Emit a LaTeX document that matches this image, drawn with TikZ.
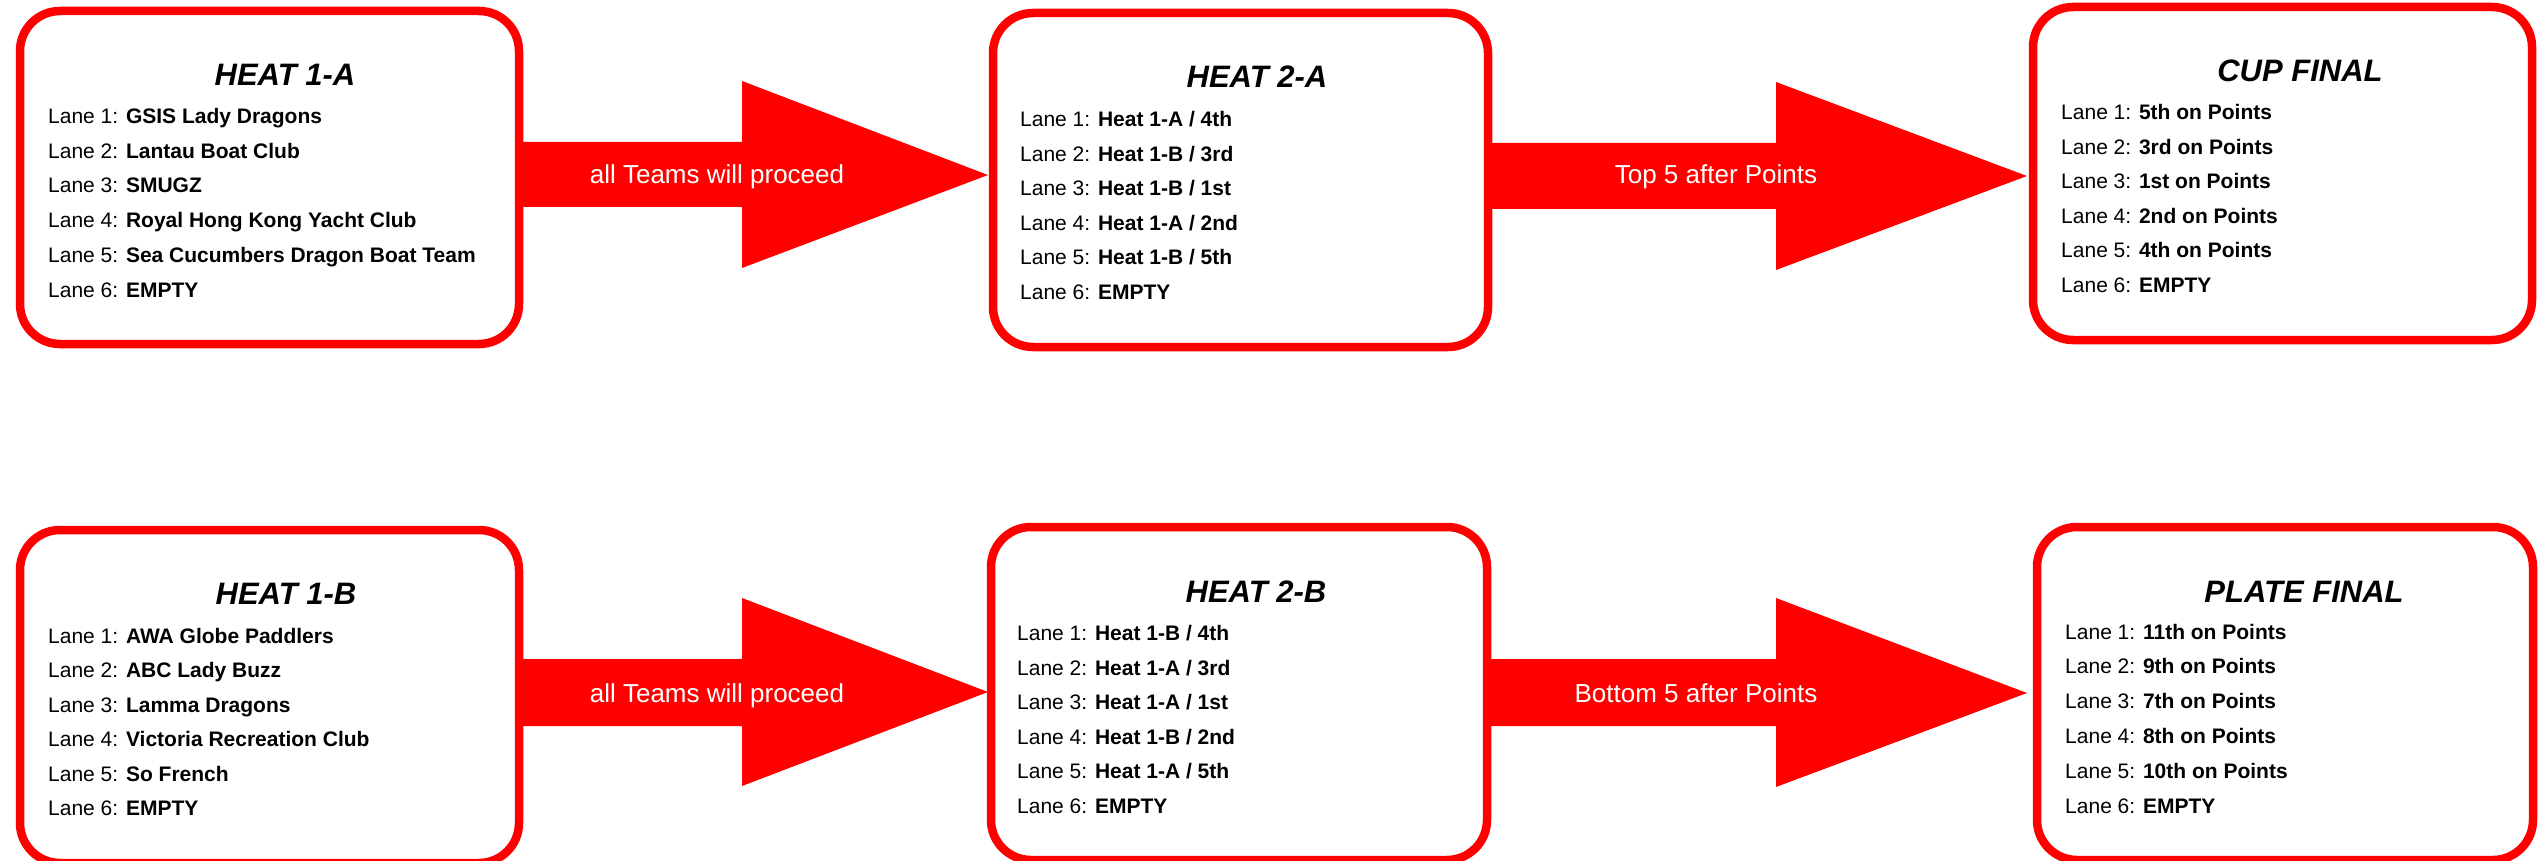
\documentclass[tikz,border=0pt]{standalone}
\usepackage{fontspec}
\setmainfont{Liberation Sans}
\definecolor{boxred}{RGB}{255,0,0}
\begin{document}
\begin{tikzpicture}[x=1pt,y=-1pt,
  heatbox/.style={draw=boxred, line width=8.5pt, rounded corners=40pt, fill=white, inner sep=0pt, outer sep=0pt},
  heattitle/.style={font=\fontsize{31}{36}\selectfont\bfseries\itshape, anchor=base, inner sep=0pt},
  lane/.style={font=\fontsize{21}{25}\selectfont, anchor=base west, inner sep=0pt},
  blockarrow/.style={fill=boxred},
  arrowlabel/.style={font=\fontsize{26}{30}\selectfont, text=white, anchor=base, inner sep=0pt}]
\useasboundingbox (0,0) rectangle (2538,861);

% boxes
\node[heatbox, minimum width=499pt, minimum height=333pt] (h1a) at (269.5,177.5) {};
\node[heatbox, minimum width=495pt, minimum height=334pt] (h2a) at (1240.5,180) {};
\node[heatbox, minimum width=499pt, minimum height=333pt] (cup) at (2282.5,173.5) {};
\node[heatbox, minimum width=499pt, minimum height=333pt] (h1b) at (269.5,696.5) {};
\node[heatbox, minimum width=496pt, minimum height=333pt] (h2b) at (1239,693.5) {};
\node[heatbox, minimum width=496pt, minimum height=333pt] (plate) at (2285,693.5) {};

% titles
\node[heattitle] (t1a) at (285,86) {HEAT 1-A};
\node[heattitle] (t2a) at (1257,88) {HEAT 2-A};
\node[heattitle] (tcup) at (2300,82) {CUP FINAL};
\node[heattitle] (t1b) at (286,604) {HEAT 1-B};
\node[heattitle] (t2b) at (1256,602) {HEAT 2-B};
\node[heattitle] (tplate) at (2304,602) {PLATE FINAL};

% lanes
\foreach \t [count=\i] in {GSIS Lady Dragons, Lantau Boat Club, SMUGZ, Royal Hong Kong Yacht Club, Sea Cucumbers Dragon Boat Team, EMPTY}
  \node[lane] (l1a-\i) at (48,{123.5+34.7*(\i-1)}) {Lane \i: \textbf{\t}};
\foreach \t [count=\i] in {Heat 1-A / 4th, Heat 1-B / 3rd, Heat 1-B / 1st, Heat 1-A / 2nd, Heat 1-B / 5th, EMPTY}
  \node[lane] (l2a-\i) at (1020,{126.5+34.6*(\i-1)}) {Lane \i: \textbf{\t}};
\foreach \t [count=\i] in {5th on Points, 3rd on Points, 1st on Points, 2nd on Points, 4th on Points, EMPTY}
  \node[lane] (lcup-\i) at (2061,{119.5+34.6*(\i-1)}) {Lane \i: \textbf{\t}};
\foreach \t [count=\i] in {AWA Globe Paddlers, ABC Lady Buzz, Lamma Dragons, Victoria Recreation Club, So French, EMPTY}
  \node[lane] (l1b-\i) at (48,{643.5+34.4*(\i-1)}) {Lane \i: \textbf{\t}};
\foreach \t [count=\i] in {Heat 1-B / 4th, Heat 1-A / 3rd, Heat 1-A / 1st, Heat 1-B / 2nd, Heat 1-A / 5th, EMPTY}
  \node[lane] (l2b-\i) at (1017,{640.5+34.6*(\i-1)}) {Lane \i: \textbf{\t}};
\foreach \t [count=\i] in {11th on Points, 9th on Points, 7th on Points, 8th on Points, 10th on Points, EMPTY}
  \node[lane] (lplate-\i) at (2065,{639+34.8*(\i-1)}) {Lane \i: \textbf{\t}};

% block arrows (tips end just before the next box)
\coordinate (tip1) at (988,175);
\coordinate (tip2) at (2027,176);
\coordinate (tip3) at (988,692);
\coordinate (tip4) at (2027,693);
\fill[blockarrow] (h1a.east |- 0,142) -- (742,142) -- (742,81) -- (tip1) -- (742,268) -- (742,207) -- (h1a.east |- 0,207) -- cycle;
\fill[blockarrow] (h2a.east |- 0,143) -- (1776,143) -- (1776,82) -- (tip2) -- (1776,270) -- (1776,209) -- (h2a.east |- 0,209) -- cycle;
\fill[blockarrow] (h1b.east |- 0,659) -- (742,659) -- (742,598) -- (tip3) -- (742,786) -- (742,726) -- (h1b.east |- 0,726) -- cycle;
\fill[blockarrow] (h2b.east |- 0,659) -- (1776,659) -- (1776,598) -- (tip4) -- (1776,787) -- (1776,726) -- (h2b.east |- 0,726) -- cycle;

% arrow labels
\node[arrowlabel] (a1) at (717,184) {all Teams will proceed};
\node[arrowlabel] (a2) at (1716,184) {Top 5 after Points};
\node[arrowlabel] (a3) at (717,702) {all Teams will proceed};
\node[arrowlabel] (a4) at (1696,702) {Bottom 5 after Points};
\end{tikzpicture}
\end{document}
